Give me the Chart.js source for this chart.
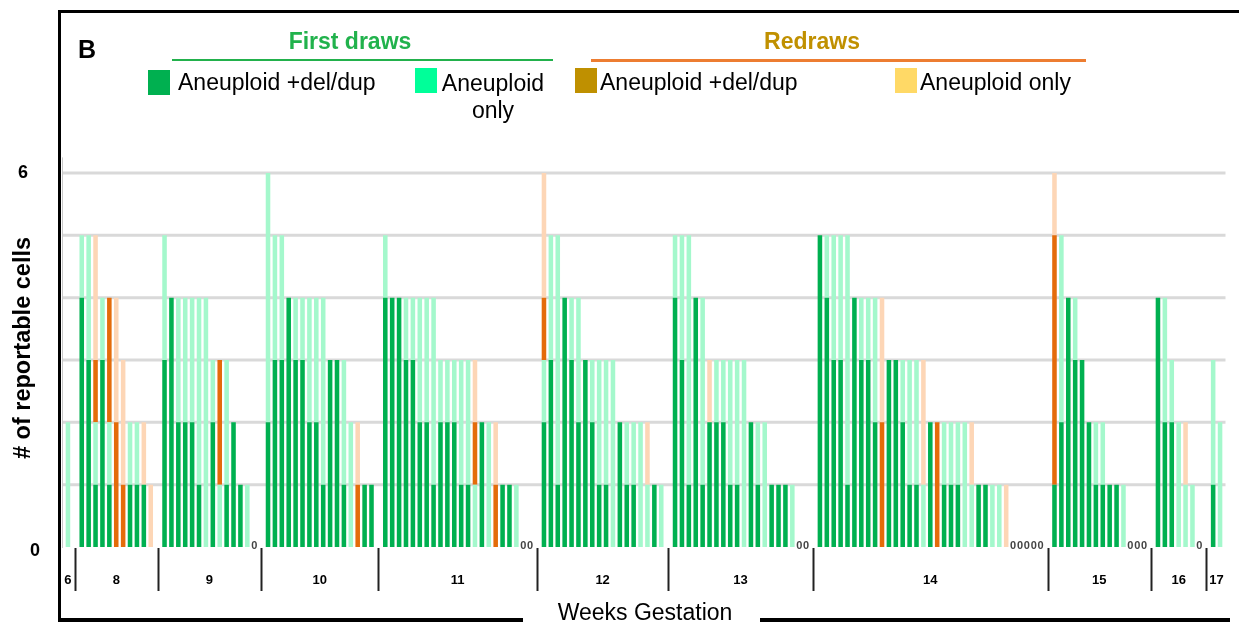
<!DOCTYPE html>
<html>
<head>
<meta charset="utf-8">
<script src="https://cdn.jsdelivr.net/npm/chart.js@4"></script>
<style>
  html,body{margin:0;padding:0;background:#fff;}
  #wrap{position:relative;width:1239px;height:625px;overflow:hidden;background:#fff;font-family:"Liberation Sans",Arial,sans-serif;color:#000;}
  #c{position:absolute;left:0;top:0;}
  .abs{position:absolute;white-space:nowrap;}
  .line{position:absolute;}
  .sq{position:absolute;width:22px;height:25px;}
  .lt{position:absolute;font-size:23px;line-height:24px;white-space:nowrap;}
</style>
</head>
<body>
<div id="wrap">
  <canvas id="c" width="1239" height="625"></canvas>
  <!-- frame -->
  <div class="line" style="left:58px;top:10px;width:1181px;height:3px;background:#000"></div>
  <div class="line" style="left:58px;top:10px;width:3px;height:612px;background:#000"></div>
  <div class="line" style="left:58px;top:618px;width:465px;height:4px;background:#000"></div>
  <div class="line" style="left:760px;top:618px;width:470px;height:4px;background:#000"></div>

  <div class="abs" style="left:78px;top:35px;font-size:25px;font-weight:bold;line-height:28px">B</div>

  <div class="abs" style="left:250px;top:28px;width:200px;text-align:center;font-size:23px;font-weight:bold;color:#21b24c;line-height:26px">First draws</div>
  <div class="line" style="left:172px;top:59px;width:381px;height:2px;background:#22b14c"></div>
  <div class="abs" style="left:712px;top:28px;width:200px;text-align:center;font-size:23px;font-weight:bold;color:#c09000;line-height:26px">Redraws</div>
  <div class="line" style="left:591px;top:59px;width:495px;height:3px;background:#ed7d31"></div>

  <div class="sq" style="left:148px;top:70px;background:#00b050"></div>
  <div class="lt" style="left:178px;top:70px">Aneuploid +del/dup</div>
  <div class="sq" style="left:415px;top:68px;background:#00ff99"></div>
  <div class="lt" style="left:440px;top:70px;width:106px;text-align:center;line-height:27px">Aneuploid<br>only</div>
  <div class="sq" style="left:575px;top:68px;background:#bf9000"></div>
  <div class="lt" style="left:600px;top:70px">Aneuploid +del/dup</div>
  <div class="sq" style="left:895px;top:68px;background:#ffd966"></div>
  <div class="lt" style="left:920px;top:70px">Aneuploid only</div>

  <div class="abs" style="left:-103px;top:336px;width:250px;text-align:center;font-size:23.5px;font-weight:bold;line-height:24px;transform:rotate(-90deg)"># of reportable cells</div>
  <div class="abs" style="left:13px;top:160px;width:20px;text-align:center;font-size:18px;font-weight:bold;line-height:24px">6</div>
  <div class="abs" style="left:25px;top:538px;width:20px;text-align:center;font-size:18px;font-weight:bold;line-height:24px">0</div>

  <div class="abs" style="left:525px;top:598px;width:240px;text-align:center;font-size:23px;line-height:28px">Weeks Gestation</div>
</div>
<script>
// ---- data (one entry per sample bar, grouped by gestation week) ----
const weeks = ['6','8','9','10','11','12','13','14','15','16','17'];

// First draws: aneuploid + del/dup cells
const firstDelDup = [
  [0],
  [4,3,1,3,1,0,0,1,1,1,0],
  [3,4,2,2,2,1,0,2,0,1,2,1,0,0],
  [2,3,3,4,3,3,2,2,1,3,3,1,0,0,1,1],
  [4,4,4,3,3,2,2,1,2,2,2,1,1,0,2,0,0,1,1,0,0,0],
  [2,3,1,4,3,2,3,2,1,1,0,2,1,1,0,0,1,0],
  [4,3,1,4,1,2,2,2,1,1,0,2,1,0,1,1,1,0,0,0],
  [5,4,3,3,1,4,3,3,2,0,3,3,2,1,1,0,2,0,1,1,1,0,0,1,1,0,0,0,0,0,0,0,0],
  [1,2,4,3,3,2,1,1,1,1,0,0,0,0],
  [4,2,2,0,0,0,0],
  [1,0]
];
// First draws: aneuploid only cells
const firstOnly = [
  [2],
  [1,2,1,1,1,0,0,1,1,0,0],
  [2,0,2,2,2,3,4,1,1,2,0,0,1,0],
  [4,2,2,0,1,1,2,2,3,0,0,2,2,0,0,0],
  [1,0,0,1,1,2,2,3,1,1,1,2,2,1,0,2,0,0,0,1,0,0],
  [1,2,4,0,1,2,0,1,2,2,3,0,1,1,2,1,0,1],
  [1,2,4,0,3,0,1,1,2,2,3,0,1,2,0,0,0,1,0,0],
  [0,1,2,2,4,0,1,1,2,0,0,0,1,2,2,1,0,0,1,1,1,2,1,0,0,1,1,0,0,0,0,0,0],
  [0,3,0,1,0,0,1,1,0,0,1,0,0,0],
  [0,2,1,2,1,1,0],
  [2,2]
];
// Redraws: aneuploid + del/dup cells
const redrawDelDup = [
  [0],
  [0,0,1,0,2,2,1,0,0,0,0],
  [0,0,0,0,0,0,0,0,2,0,0,0,0,0],
  [0,0,0,0,0,0,0,0,0,0,0,0,0,1,0,0],
  [0,0,0,0,0,0,0,0,0,0,0,0,0,1,0,0,1,0,0,0,0,0],
  [1,0,0,0,0,0,0,0,0,0,0,0,0,0,0,0,0,0],
  [0,0,0,0,0,0,0,0,0,0,0,0,0,0,0,0,0,0,0,0],
  [0,0,0,0,0,0,0,0,0,2,0,0,0,0,0,0,0,2,0,0,0,0,0,0,0,0,0,0,0,0,0,0,0],
  [4,0,0,0,0,0,0,0,0,0,0,0,0,0],
  [0,0,0,0,0,0,0],
  [0,0]
];
// Redraws: aneuploid only cells
const redrawOnly = [
  [0],
  [0,0,2,0,0,2,2,0,0,1,1],
  [0,0,0,0,0,0,0,0,0,0,0,0,0,0],
  [0,0,0,0,0,0,0,0,0,0,0,0,0,1,0,0],
  [0,0,0,0,0,0,0,0,0,0,0,0,0,1,0,0,1,0,0,0,0,0],
  [2,0,0,0,0,0,0,0,0,0,0,0,0,0,0,1,0,0],
  [0,0,0,0,0,1,0,0,0,0,0,0,0,0,0,0,0,0,0,0],
  [0,0,0,0,0,0,0,0,0,2,0,0,0,0,0,2,0,0,0,0,0,0,1,0,0,0,0,1,0,0,0,0,0],
  [1,0,0,0,0,0,0,0,0,0,0,0,0,0],
  [0,0,0,0,1,0,0],
  [0,0]
];
const yTicks = [0,1,2,3,4,5,6];

// ---- build category axis (one empty slot between week groups) ----
const labels = [], dD = [], dL = [], dO = [], dP = [], weekOf = [];
weeks.forEach((w, wi) => {
  if (wi > 0) { labels.push('gap' + wi); dD.push(null); dL.push(null); dO.push(null); dP.push(null); weekOf.push(-1); }
  firstDelDup[wi].forEach((v, i) => {
    labels.push(w + '_' + (i + 1));
    dD.push(v); dL.push(firstOnly[wi][i]); dO.push(redrawDelDup[wi][i]); dP.push(redrawOnly[wi][i]);
    weekOf.push(wi);
  });
});

const decor = {
  id: 'decor',
  beforeDatasetsDraw(chart) {
    const ctx = chart.ctx, y = chart.scales.y, a = chart.chartArea;
    ctx.save();
    ctx.strokeStyle = '#d9d9d9'; ctx.lineWidth = 3;
    yTicks.forEach(t => {
      if (t === 0) return;
      const py = y.getPixelForValue(t);
      ctx.beginPath(); ctx.moveTo(62, py); ctx.lineTo(a.right + 2, py); ctx.stroke();
    });
    ctx.strokeStyle = '#c8c8c8'; ctx.lineWidth = 1;
    ctx.beginPath(); ctx.moveTo(62.5, y.getPixelForValue(6.25)); ctx.lineTo(62.5, a.bottom + 1); ctx.stroke();
    ctx.restore();
  },
  afterDatasetsDraw(chart) {
    const ctx = chart.ctx, x = chart.scales.x, y = chart.scales.y, a = chart.chartArea;
    ctx.save();
    // zero-value labels
    ctx.fillStyle = '#444'; ctx.font = 'bold 11px "Liberation Sans", Arial';
    ctx.textAlign = 'center'; ctx.textBaseline = 'middle';
    labels.forEach((l, i) => {
      if (weekOf[i] < 0) return;
      const tot = dD[i] + dL[i] + dO[i] + dP[i];
      if (tot === 0) ctx.fillText('0', x.getPixelForValue(i), y.getPixelForValue(0) - 1);
    });
    // week separators
    ctx.strokeStyle = '#222'; ctx.lineWidth = 2;
    labels.forEach((l, i) => {
      if (weekOf[i] !== -1) return;
      const px = Math.round(x.getPixelForValue(i)) + 0.5;
      ctx.beginPath(); ctx.moveTo(px, a.bottom + 1); ctx.lineTo(px, a.bottom + 44); ctx.stroke();
    });
    // week labels
    ctx.fillStyle = '#000'; ctx.font = 'bold 13px "Liberation Sans", Arial';
    weeks.forEach((w, wi) => {
      let first = -1, last = -1;
      weekOf.forEach((v, i) => { if (v === wi) { if (first < 0) first = i; last = i; } });
      const cx = (x.getPixelForValue(first) + x.getPixelForValue(last)) / 2;
      ctx.fillText(w, cx, a.bottom + 33);
    });
    ctx.restore();
  }
};

const common = { stack: 's', barPercentage: 0.66, categoryPercentage: 1.0, borderWidth: 0 };
new Chart(document.getElementById('c'), {
  type: 'bar',
  data: {
    labels: labels,
    datasets: [
      Object.assign({ label: 'First draws: Aneuploid +del/dup', data: dD, backgroundColor: '#00b050' }, common),
      Object.assign({ label: 'First draws: Aneuploid only', data: dL, backgroundColor: '#a4f8cc' }, common),
      Object.assign({ label: 'Redraws: Aneuploid +del/dup', data: dO, backgroundColor: '#e46c0a' }, common),
      Object.assign({ label: 'Redraws: Aneuploid only', data: dP, backgroundColor: '#fdd6b6' }, common)
    ]
  },
  options: {
    responsive: false,
    animation: false,
    layout: { padding: { left: 64.5, right: 15.5, top: 173, bottom: 78 } },
    plugins: { legend: { display: false }, tooltip: { enabled: false } },
    scales: {
      x: { stacked: true, display: false, offset: true },
      y: { stacked: true, display: false, min: 0, max: 6 }
    }
  },
  plugins: [decor]
});
</script>
</body>
</html>
